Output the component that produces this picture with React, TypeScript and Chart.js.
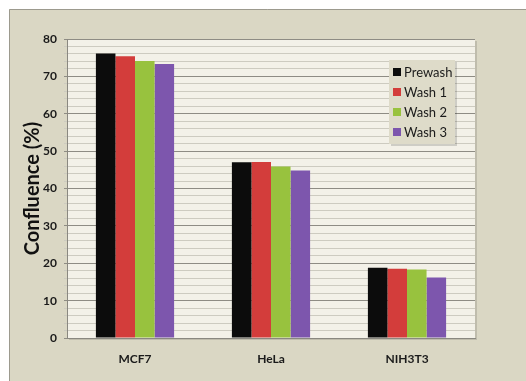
import React, { useEffect, useRef } from "react";
import { Chart, registerables } from "chart.js";

Chart.register(...registerables);

const categories = ["MCF7", "HeLa", "NIH3T3"];
const seriesNames = ["Prewash", "Wash 1", "Wash 2", "Wash 3"];
const prewash = [76.1, 47.0, 18.8];
const wash1 = [75.4, 47.1, 18.5];
const wash2 = [74.1, 45.9, 18.3];
const wash3 = [73.3, 44.8, 16.2];
const seriesColors = ["#0c0c0c", "#d33d3b", "#98c23e", "#7d56ad"];
const yTicksMajor = [0, 10, 20, 30, 40, 50, 60, 70, 80];

const FONT = "Lato, 'Open Sans', sans-serif";

const framePlugin = {
  id: "frame",
  beforeDraw(chart: any) {
    const { ctx, width, height, chartArea } = chart;
    ctx.save();
    ctx.fillStyle = "#ffffff";
    ctx.fillRect(0, 0, width, height);
    ctx.fillStyle = "#dad7c4";
    ctx.fillRect(9, 9, width - 9, height - 9);
    ctx.strokeStyle = "#9c9a8e";
    ctx.lineWidth = 1;
    ctx.beginPath();
    ctx.moveTo(9.5, height);
    ctx.lineTo(9.5, 9.5);
    ctx.lineTo(width, 9.5);
    ctx.stroke();
    ctx.fillStyle = "rgba(0,0,0,0.12)";
    ctx.fillRect(chartArea.left + 2, chartArea.top + 2, chartArea.right - chartArea.left, chartArea.bottom - chartArea.top);
    ctx.fillStyle = "#f3f1e8";
    ctx.fillRect(chartArea.left, chartArea.top, chartArea.right - chartArea.left, chartArea.bottom - chartArea.top);
    ctx.restore();
  },
};

const legendPlugin = {
  id: "boxLegend",
  afterDraw(chart: any) {
    const { ctx } = chart;
    const x = 389, y = 60, w = 66, h = 84;
    ctx.save();
    ctx.fillStyle = "rgba(0,0,0,0.15)";
    ctx.fillRect(x + 2, y + 2, w, h);
    ctx.fillStyle = "#dedbc9";
    ctx.fillRect(x, y, w, h);
    ctx.font = `13px ${FONT}`;
    ctx.textBaseline = "middle";
    chart.data.datasets.forEach((ds: any, i: number) => {
      const cy = y + 12 + i * 20;
      ctx.fillStyle = ds.backgroundColor;
      ctx.fillRect(x + 4, cy - 4, 8, 8);
      ctx.fillStyle = "#1a1a1a";
      ctx.fillText(ds.label, x + 15, cy + 1);
    });
    ctx.restore();
  },
};

export default function App() {
  const ref = useRef<HTMLCanvasElement | null>(null);
  useEffect(() => {
    if (!ref.current) return;
    const data = [prewash, wash1, wash2, wash3];
    const chart = new Chart(ref.current, {
      type: "bar",
      data: {
        labels: categories,
        datasets: seriesNames.map((n, i) => ({
          label: n,
          data: data[i],
          backgroundColor: seriesColors[i],
          borderWidth: 0,
          categoryPercentage: 0.575,
          barPercentage: 1.0,
        })),
      },
      options: {
        responsive: false,
        animation: false,
        devicePixelRatio: 1,
        layout: { padding: { left: 0, top: 39, right: 51, bottom: 0 } },
        plugins: { legend: { display: false }, tooltip: { enabled: false } },
        scales: {
          x: {
            afterFit: (s: any) => { s.height = 43; },
            grid: { display: false },
            border: { display: true, color: "#8a8880", width: 1 },
            ticks: { color: "#1a1a1a", font: { family: FONT, size: 12, weight: "bold" }, padding: 6 },
          },
          y: {
            min: 0,
            max: 80,
            afterFit: (s: any) => { s.width = 67; },
            afterBuildTicks: (s: any) => {
              const t: any[] = [];
              for (let v = 0; v <= 80; v += 2) t.push({ value: v });
              s.ticks = t;
            },
            grid: {
              color: (c: any) => (c.tick && c.tick.value % 10 === 0 ? "#8e8c84" : "#cdcbc0"),
              lineWidth: 1,
              drawTicks: true,
              tickLength: 3,
            },
            border: { display: true, color: "#8a8880", width: 1 },
            ticks: {
              autoSkip: false,
              color: "#1a1a1a",
              font: { family: FONT, size: 12, weight: "bold" },
              padding: 7,
              callback: (v: any) => (yTicksMajor.includes(Number(v)) ? String(v) : ""),
            },
            title: {
              display: true,
              text: "Confluence (%)",
              color: "#111111",
              font: { family: FONT, size: 20, weight: "bold" },
              padding: { top: 21, bottom: 0 },
            },
          },
        },
      },
      plugins: [framePlugin, legendPlugin],
    });
    return () => chart.destroy();
  }, []);
  return (
    <div style={{ position: "fixed", left: 0, top: 0, width: 526, height: 381, background: "#fff" }}>
      <canvas ref={ref} width={526} height={381} style={{ display: "block", width: 526, height: 381 }} />
    </div>
  );
}
